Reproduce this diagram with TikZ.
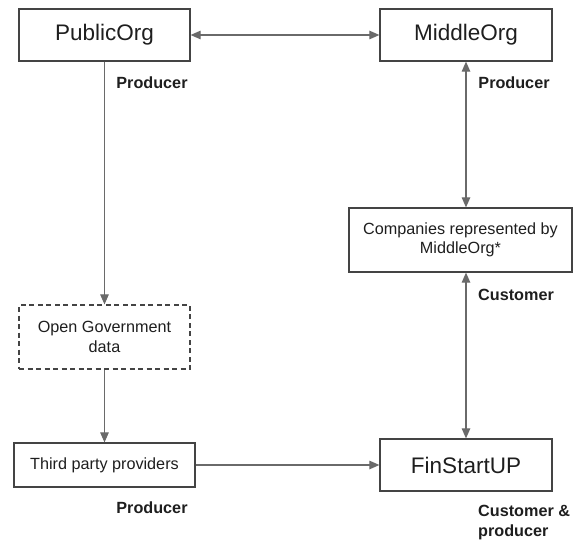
\documentclass[tikz,border=0pt]{standalone}
\usepackage{fontspec}
\setmainfont{Liberation Sans}
\usetikzlibrary{arrows.meta,calc}
\definecolor{boxline}{HTML}{444444}
\definecolor{arrowline}{HTML}{6A6A6A}
\definecolor{txt}{HTML}{1E1E1E}
\begin{document}
\begin{tikzpicture}[x=1pt,y=-1pt,
  bigbox/.style={draw=boxline,line width=1.2pt,inner sep=0pt,text=txt,font=\fontsize{22.5}{26}\selectfont},
  smallbox/.style={draw=boxline,line width=1.2pt,inner sep=0pt,text=txt,align=center,font=\fontsize{16.2}{19.5}\selectfont},
  role/.style={text=txt,inner sep=0pt,font=\bfseries\fontsize{16.2}{20}\selectfont},
  conn/.style={draw=arrowline,line width=1.1pt,-{Triangle[length=10pt,width=8.5pt]}},
  biconn/.style={draw=arrowline,line width=1.1pt,{Triangle[length=10pt,width=8.5pt]}-{Triangle[length=10pt,width=8.5pt]}}
]
\useasboundingbox (0,0) rectangle (573,540);
\node[bigbox,minimum width=171pt,minimum height=52pt] (pub) at (104.5,35) {PublicOrg};
\node[bigbox,minimum width=172pt,minimum height=52pt] (mid) at (466,35) {MiddleOrg};
\node[smallbox,minimum width=223pt,minimum height=64pt] (comp) at (460.5,240) {Companies represented by\\MiddleOrg*};
\node[smallbox,dash pattern=on 5pt off 3.5pt,minimum width=171pt,minimum height=64pt] (ogd) at (104.5,337) {Open Government\\data};
\node[smallbox,minimum width=181pt,minimum height=44pt] (third) at (104.5,465) {Third party providers};
\node[bigbox,minimum width=172pt,minimum height=52pt] (fin) at (466,465) {FinStartUP};

\node[role] (r1) at (152,83) {Producer};
\node[role] (r2) at (514,83) {Producer};
\node[role,anchor=west] (r3) at (478,295) {Customer};
\node[role] (r4) at (152,508) {Producer};
\node[role,anchor=west,align=left] (r5) at (478,523) {Customer \&\\producer};

\draw[biconn] (pub.east) -- (mid.west);
\draw[conn] (pub.south) -- (ogd.north);
\draw[conn] (ogd.south) -- (third.north);
\draw[conn] (third.east) -- (fin.west);
\draw[biconn] (mid.south) -- (mid.south |- comp.north);
\draw[biconn] (fin.north |- comp.south) -- (fin.north);
\end{tikzpicture}
\end{document}
